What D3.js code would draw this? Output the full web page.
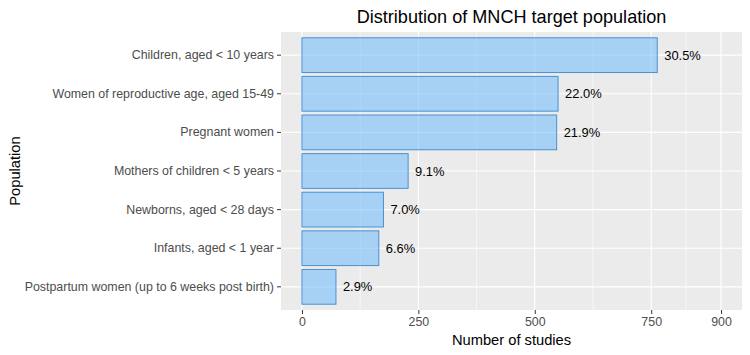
<!DOCTYPE html>
<html><head><meta charset="utf-8">
<script src="https://cdn.jsdelivr.net/npm/d3@7"></script>
<style>body{margin:0;background:#fff}svg{display:block}text{font-family:"Liberation Sans",Arial,sans-serif}</style>
</head><body><svg id="c" width="750" height="355"></svg>
<script>
const categories = ["Children, aged < 10 years","Women of reproductive age, aged 15-49","Pregnant women","Mothers of children < 5 years","Newborns, aged < 28 days","Infants, aged < 1 year","Postpartum women (up to 6 weeks post birth)"];
const studies = [763, 550, 547, 228, 175, 165, 73];
const pctLabels = ["30.5%","22.0%","21.9%","9.1%","7.0%","6.6%","2.9%"];
const xBreaks = [0, 250, 500, 750, 900];
const xMinor = [125, 375, 625, 825];
const title = "Distribution of MNCH target population";
const xTitle = "Number of studies";
const yTitle = "Population";

const svg = d3.select("#c");
const P = {l:281, r:742, t:32, b:310};
const x = d3.scaleLinear().domain([-45, 945]).range([P.l, P.r]);
const step = (P.b - P.t) / 7.2;
const y = d3.scaleBand().domain(categories).range([P.t + 0.6*step - step/2, P.b - 0.6*step + step/2]).paddingInner(0.1).paddingOuter(0.05);

svg.append("rect").attr("x",P.l).attr("y",P.t).attr("width",P.r-P.l).attr("height",P.b-P.t).attr("fill","#EBEBEB");
const g = svg.append("g");
xMinor.forEach(v=>g.append("line").attr("x1",x(v)).attr("x2",x(v)).attr("y1",P.t).attr("y2",P.b).attr("stroke","#fff").attr("stroke-width",0.6));
xBreaks.forEach(v=>g.append("line").attr("x1",x(v)).attr("x2",x(v)).attr("y1",P.t).attr("y2",P.b).attr("stroke","#fff").attr("stroke-width",1.1));
categories.forEach(c=>{const yc=y(c)+y.bandwidth()/2;g.append("line").attr("x1",P.l).attr("x2",P.r).attr("y1",yc).attr("y2",yc).attr("stroke","#fff").attr("stroke-width",1.1);});

svg.selectAll(".bar").data(categories).join("rect").attr("class","bar")
  .attr("x",x(0)).attr("y",c=>y(c)).attr("height",y.bandwidth())
  .attr("width",(c,i)=>x(studies[i])-x(0))
  .attr("fill","rgb(110,188,253)").attr("fill-opacity",0.55)
  .attr("stroke","#4A90D0").attr("stroke-width",1);

svg.selectAll(".lbl").data(categories).join("text").attr("class","lbl")
  .attr("x",(c,i)=>x(studies[i])+7).attr("y",c=>y(c)+y.bandwidth()/2).attr("dy","0.35em")
  .attr("font-size",12.9).attr("fill","#000").text((c,i)=>pctLabels[i]);

// axes
const xa = svg.append("g").attr("transform",`translate(0,${P.b})`)
  .call(d3.axisBottom(x).tickValues(xBreaks).tickSize(4).tickPadding(3).tickFormat(d3.format("d")));
const ya = svg.append("g").attr("transform",`translate(${P.l},0)`)
  .call(d3.axisLeft(y).tickSize(4).tickPadding(3));
[xa,ya].forEach(a=>{a.select(".domain").remove();a.selectAll(".tick line").attr("stroke","#333");
  a.selectAll(".tick text").attr("fill","#4D4D4D").attr("font-size",12.4).attr("font-family",'"Liberation Sans",Arial,sans-serif');});

svg.append("text").attr("x",(P.l+P.r)/2).attr("y",23).attr("text-anchor","middle").attr("font-size",18.1).attr("fill","#000").text(title);
svg.append("text").attr("x",(P.l+P.r)/2).attr("y",345).attr("text-anchor","middle").attr("font-size",14.7).attr("fill","#000").text(xTitle);
svg.append("text").attr("transform",`translate(20,${(P.t+P.b)/2}) rotate(-90)`).attr("text-anchor","middle").attr("font-size",14.7).attr("fill","#000").text(yTitle);
</script></body></html>
